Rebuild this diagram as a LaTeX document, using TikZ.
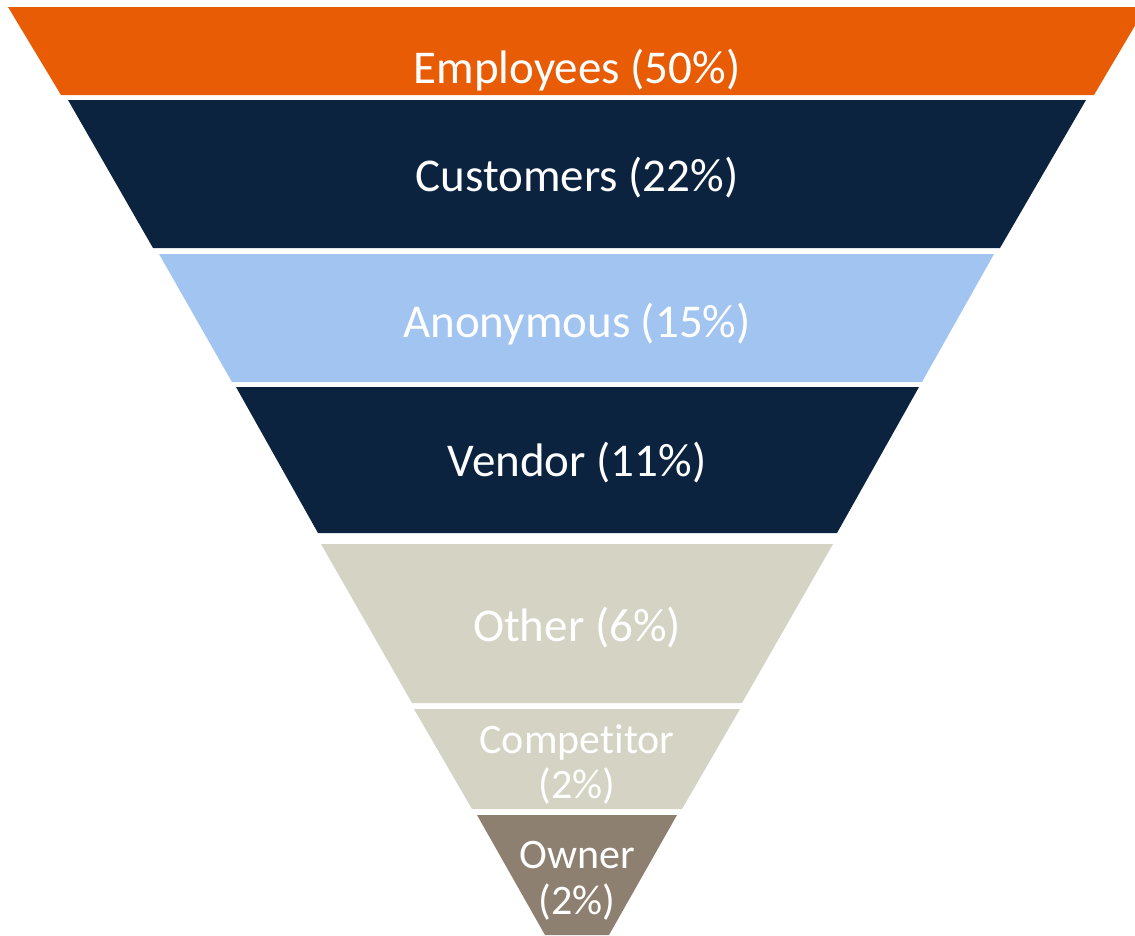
\documentclass[tikz,border=0pt]{standalone}
\usepackage{fontspec}
\setmainfont{Carlito}[Ligatures=NoCommon]
\definecolor{funnelorange}{RGB}{232,92,6}
\definecolor{funnelnavy}{RGB}{12,35,64}
\definecolor{funnelblue}{RGB}{162,196,240}
\definecolor{funnelbeige}{RGB}{212,211,196}
\definecolor{funneltaupe}{RGB}{142,128,112}
\tikzset{
    band/.style={draw=none},
    bandlabel/.style={text=white, font=\fontsize{47}{50}\selectfont, align=center, inner sep=0pt},
    smalllabel/.style={bandlabel, font=\fontsize{42}{45}\selectfont}
}
\begin{document}
\begin{tikzpicture}[x=1pt,y=-1pt]
        \useasboundingbox (0,0) rectangle (1135,935);
        \pgfmathsetmacro{\xmid}{577}
        
        % bands of the funnel, top to bottom
        \fill[band, funnelorange] (8,7) -- (1146,7) -- (1094,95) -- (61,95) -- cycle;
        \fill[band, funnelnavy] (68,100) -- (1086,100) -- (1000,248) -- (153,248) -- cycle;
        \fill[band, funnelblue] (159,254) -- (994,254) -- (922,382) -- (232,382) -- cycle;
        \fill[band, funnelnavy] (236,387) -- (919,387) -- (837,533) -- (318,533) -- cycle;
        \fill[band, funnelbeige] (321,544) -- (833,544) -- (742,703) -- (412,703) -- cycle;
        \fill[band, funnelbeige] (414,709) -- (740,709) -- (682,809) -- (472,809) -- cycle;
        \fill[band, funneltaupe] (477,815) -- (677,815) -- (609,935) -- (545,935) -- cycle;
        
        % labels
        \node[bandlabel, anchor=base] (employees) at (\xmid,83) {Employees (50\%)};
        \node[bandlabel, anchor=base] (customers) at (\xmid,191) {Customers (22\%)};
        \node[bandlabel, anchor=base] (anonymous) at (\xmid,337) {Anonymous (15\%)};
        \node[bandlabel, anchor=base] (vendor) at (\xmid,476) {Vendor (11\%)};
        \node[bandlabel, anchor=base] (other) at (\xmid,641) {Other (6\%)};
        \node[smalllabel] (competitor) at (\xmid,764) {Competitor\\(2\%)};
        \node[smalllabel, font=\fontsize{42}{46}\selectfont] (owner) at (\xmid,881) {Owner\\(2\%)};
        
    \end{tikzpicture}
\end{document}
